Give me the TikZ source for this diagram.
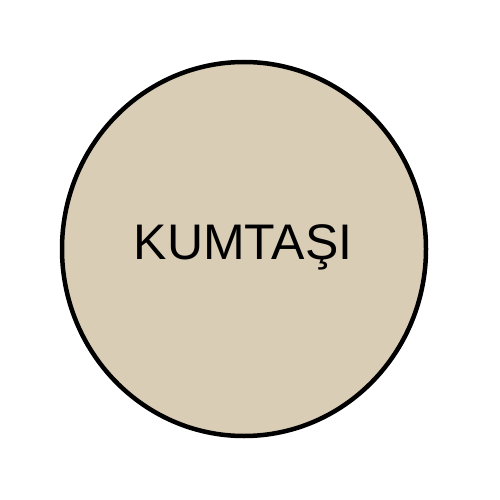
\documentclass[tikz,border=0pt]{standalone}
\usepackage{fontspec}
\setmainfont{Liberation Sans}
\definecolor{sandfill}{HTML}{D9CDB6}
\begin{document}
\begin{tikzpicture}[x=1pt,y=-1pt,
  rock/.style={draw=black, line width=4.5pt, fill=sandfill},
  lbl/.style={font=\fontsize{50}{60}\selectfont, inner sep=0pt}]
\useasboundingbox (0,0) rectangle (500,500);
\draw[rock] (244,249) ellipse [x radius=182, y radius=187];
\node[lbl, anchor=base] (label) at (243,259) {KUMTAŞI};
\end{tikzpicture}
\end{document}
